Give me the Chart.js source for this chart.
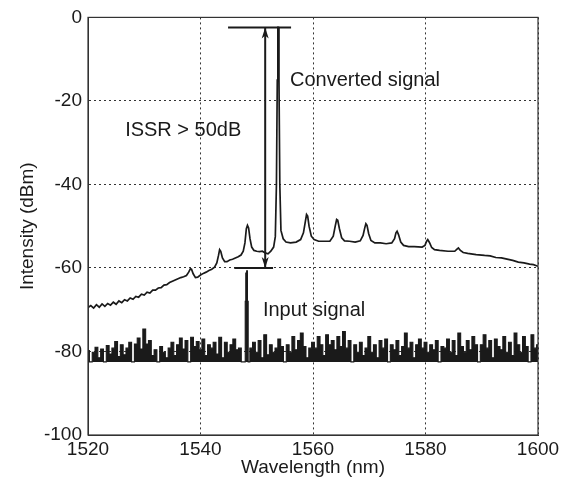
<!DOCTYPE html>
<html><head><meta charset="utf-8">
<script src="https://cdn.jsdelivr.net/npm/chart.js@4/dist/chart.umd.min.js"></script>
<style>html,body{margin:0;padding:0;background:#fff}canvas{display:block}</style>
</head><body>
<canvas id="c" width="570" height="485"></canvas>
<script>
// Axis ticks
const xTicks = [1520, 1540, 1560, 1580, 1600];
const yTicks = [-100, -80, -60, -40, -20, 0];

// Converted signal (nm, dBm)
const convWl = [
 1520.0,1520.5,1521.0,1521.5,1522.0,1522.5,1523.0,1523.5,1524.0,1524.5,
 1525.0,1525.5,1526.0,1526.5,1527.0,1527.5,1528.0,1528.5,1529.0,1529.5,
 1530.0,1530.5,1531.0,1531.5,1532.0,1532.5,1533.0,1533.5,1534.0,1534.5,
 1535.0,1535.5,1536.0,1536.5,1537.0,1537.5,1537.9,1538.2,1538.4,1538.7,
 1539.1,1539.5,1540.0,1540.5,1541.0,1541.5,1542.0,1542.5,1542.9,1543.2,
 1543.4,1543.6,1543.9,1544.3,1544.7,1545.2,1545.7,1546.2,1546.7,1547.2,
 1547.6,1547.9,1548.15,1548.35,1548.55,1548.8,1549.1,1549.5,1550.0,1550.5,
 1551.0,1551.5,1552.0,1552.5,1553.0,1553.3,1553.5,1553.65,1553.75,1553.85,
 1553.95,1554.1,1554.3,1554.7,1555.2,1556.0,1557.0,1557.8,1558.3,1558.6,
 1558.85,1559.05,1559.3,1559.7,1560.2,1561.0,1562.0,1563.0,1563.6,1563.95,
 1564.2,1564.4,1564.7,1565.1,1565.6,1566.5,1567.5,1568.4,1568.9,1569.2,
 1569.4,1569.6,1569.9,1570.3,1571.0,1572.0,1573.0,1574.0,1574.5,1574.75,
 1574.95,1575.2,1575.6,1576.1,1577.0,1578.0,1579.4,1579.9,1580.2,1580.4,
 1580.7,1581.1,1581.6,1582.5,1584.0,1585.2,1585.6,1585.85,1586.2,1586.7,
 1587.5,1589.0,1590.5,1591.5,1592.5,1593.5,1594.5,1595.5,1596.5,1597.5,
 1598.5,1599.2,1600.0
];
const convDb = [
 -69.5,-69.0,-69.6,-68.8,-69.4,-68.6,-69.2,-68.5,-68.9,-68.2,
 -68.7,-67.9,-68.3,-67.6,-67.9,-67.2,-67.5,-66.8,-67.0,-66.3,
 -66.5,-65.8,-66.0,-65.3,-65.3,-64.8,-64.7,-64.1,-64.0,-63.5,
 -63.2,-62.9,-62.6,-62.3,-62.1,-61.8,-61.0,-60.2,-60.3,-61.4,
 -62.3,-62.2,-61.7,-61.3,-61.0,-60.6,-60.3,-59.8,-58.8,-57.0,
 -55.6,-56.0,-57.6,-58.5,-58.5,-58.1,-57.9,-57.6,-57.3,-56.9,
 -56.0,-54.0,-50.6,-49.8,-50.4,-53.0,-55.0,-55.8,-56.0,-56.1,
 -56.0,-56.4,-56.6,-56.0,-55.0,-52.5,-40.0,-15.0,-2.4,-2.4,
 -15.0,-40.0,-51.0,-53.0,-53.8,-54.0,-53.8,-53.2,-51.6,-49.2,
 -47.2,-47.6,-50.0,-52.4,-53.2,-53.6,-53.6,-53.6,-52.4,-50.0,
 -48.4,-48.6,-50.6,-52.8,-53.5,-53.6,-53.8,-53.5,-52.2,-50.4,
 -49.4,-49.8,-51.8,-53.4,-54.0,-54.0,-54.2,-54.0,-53.0,-51.6,
 -51.2,-52.0,-53.8,-54.6,-54.9,-54.9,-55.0,-54.6,-53.6,-53.2,
 -53.9,-55.1,-55.6,-55.8,-56.0,-56.0,-55.5,-55.2,-55.8,-56.3,
 -56.5,-56.8,-57.0,-57.1,-57.5,-57.6,-57.9,-58.2,-58.6,-58.8,
 -59.1,-59.2,-59.6
];

// Input signal (nm, dBm)
const inputWl = [
 1520,1520.5,1521,1521.5,1522,1522.5,1523,1523.5,1524,1524.5,
 1525,1525.5,1526,1526.5,1527,1527.5,1528,1528.5,1529,1529.5,
 1530,1530.5,1531,1531.5,1532,1532.5,1533,1533.5,1534,1534.5,
 1535,1535.5,1536,1536.5,1537,1537.5,1538,1538.5,1539,1539.5,
 1540,1540.5,1541,1541.5,1542,1542.5,1543,1543.5,1544,1544.5,
 1545,1545.5,1546,1546.5,1547,1547.5,
 1547.9,1548.0,1548.1,1548.3,1548.4,1548.55,
 1549,1549.5,
 1550,1550.5,1551,1551.5,1552,1552.5,1553,1553.5,1554,1554.5,
 1555,1555.5,1556,1556.5,1557,1557.5,1558,1558.5,1559,1559.5,
 1560,1560.5,1561,1561.5,1562,1562.5,1563,1563.5,1564,1564.5,
 1565,1565.5,1566,1566.5,1567,1567.5,1568,1568.5,1569,1569.5,
 1570,1570.5,1571,1571.5,1572,1572.5,1573,1573.5,1574,1574.5,
 1575,1575.5,1576,1576.5,1577,1577.5,1578,1578.5,1579,1579.5,
 1580,1580.5,1581,1581.5,1582,1582.5,1583,1583.5,1584,1584.5,
 1585,1585.5,1586,1586.5,1587,1587.5,1588,1588.5,1589,1589.5,
 1590,1590.5,1591,1591.5,1592,1592.5,1593,1593.5,1594,1594.5,
 1595,1595.5,1596,1596.5,1597,1597.5,1598,1598.5,1599,1599.5,
 1600
];
const inputDb = [
 -79.8,-82.5,-80.2,-79.0,-81.5,-79.4,-82.5,-78.6,-80.6,-79.2,
 -77.6,-81.2,-78.4,-80.8,-79.2,-77.8,-82.5,-78.2,-76.8,-79.4,
 -74.6,-78.2,-77.4,-81.0,-79.6,-82.5,-78.8,-80.2,-81.5,-79.2,
 -77.8,-81.0,-78.4,-76.8,-79.4,-77.4,-82.5,-76.6,-78.8,-77.6,
 -79.6,-77.0,-81.0,-78.4,-79.2,-77.8,-80.6,-76.6,-81.5,-77.8,
 -80.2,-78.4,-77.0,-79.6,-79.2,-82.5,
 -82.5,-68,-61.2,-60.7,-68,-82.5,
 -79.2,-77.8,
 -80.2,-77.4,-81.5,-76.0,-80.8,-78.4,-80.2,-79.2,-77.0,-78.8,
 -82.5,-78.4,-80.2,-76.4,-79.6,-77.4,-75.6,-78.8,-81.5,-79.2,
 -77.8,-79.2,-76.4,-78.4,-81.0,-76.0,-78.4,-77.4,-79.6,-76.4,
 -78.8,-75.2,-79.2,-77.4,-82.5,-78.4,-80.2,-77.8,-81.0,-79.2,
 -76.4,-80.2,-78.4,-81.5,-77.4,-79.2,-77.0,-82.5,-78.4,-79.6,
 -77.4,-81.0,-78.8,-75.6,-79.2,-77.8,-81.5,-78.4,-77.0,-79.2,
 -77.8,-80.2,-78.4,-79.6,-77.4,-82.5,-78.8,-79.2,-77.0,-80.2,
 -77.4,-81.0,-75.6,-78.8,-80.2,-77.4,-79.6,-76.4,-78.4,-82.5,
 -78.4,-76.0,-79.2,-77.4,-81.5,-77.0,-78.8,-79.6,-76.4,-80.2,
 -77.8,-81.0,-75.6,-78.4,-80.2,-76.4,-78.8,-82.5,-76.0,-79.2,
 -78.4
];
const inputFloorDb = -82.5;

// ISSR annotation markers
const issrTopWl = [1544.9, 1556.1];
const issrTopDb = [-2.4, -2.4];
const issrBotWl = [1546.0, 1552.9];
const issrBotDb = [-60, -60];
const arrowWl = [1551.5, 1551.5];
const arrowDb = [-2.4, -60];

// Text labels
const labelTexts = ['Converted signal', 'ISSR > 50dB', 'Input signal'];
const labelWl = [1555.9, 1526.6, 1551.1];
const labelDb = [-15, -27, -70.2];

const FONT = '"Liberation Sans", Arial, Helvetica, sans-serif';
const INK = '#1a1a1a';

const pts = (xs, ys) => xs.map((x, i) => ({x, y: ys[i]}));

const overlay = {
  id: 'overlay',
  afterDatasetsDraw(chart) {
    const {ctx, chartArea: a, scales: {x, y}} = chart;
    ctx.save();
    ctx.strokeStyle = '#333';
    ctx.lineWidth = 1.2;
    ctx.strokeRect(a.left, a.top, a.right - a.left, a.bottom - a.top);
    const ax = x.getPixelForValue(arrowWl[0]);
    const yt = y.getPixelForValue(arrowDb[0]);
    const yb = y.getPixelForValue(arrowDb[1]);
    ctx.fillStyle = INK;
    ctx.beginPath();
    ctx.moveTo(ax, yt); ctx.lineTo(ax - 3.5, yt + 11); ctx.lineTo(ax, yt + 8); ctx.lineTo(ax + 3.5, yt + 11); ctx.closePath();
    ctx.fill();
    ctx.beginPath();
    ctx.moveTo(ax, yb); ctx.lineTo(ax - 3.5, yb - 11); ctx.lineTo(ax, yb - 8); ctx.lineTo(ax + 3.5, yb - 11); ctx.closePath();
    ctx.fill();
    ctx.font = '20px ' + FONT;
    ctx.textAlign = 'left';
    ctx.textBaseline = 'middle';
    labelTexts.forEach((t, i) => {
      ctx.fillText(t, x.getPixelForValue(labelWl[i]), y.getPixelForValue(labelDb[i]));
    });
    ctx.restore();
  }
};

new Chart(document.getElementById('c'), {
  type: 'scatter',
  data: {
    datasets: [
      {label: 'Input signal', data: pts(inputWl, inputDb), showLine: true, borderColor: INK, borderWidth: 1.1,
       backgroundColor: INK, fill: {value: inputFloorDb}, stepped: 'middle', pointRadius: 0},
      {label: 'Converted signal', data: pts(convWl, convDb), showLine: true, borderColor: INK, borderWidth: 1.7,
       pointRadius: 0, fill: false, tension: 0},
      {label: 'top', data: pts(issrTopWl, issrTopDb), showLine: true, borderColor: INK, borderWidth: 2, pointRadius: 0},
      {label: 'bottom', data: pts(issrBotWl, issrBotDb), showLine: true, borderColor: INK, borderWidth: 2, pointRadius: 0},
      {label: 'arrow', data: pts(arrowWl, arrowDb), showLine: true, borderColor: INK, borderWidth: 2, pointRadius: 0}
    ]
  },
  options: {
    responsive: false,
    animation: false,
    events: [],
    layout: {padding: {left: 0, right: 32, top: 15, bottom: 0}},
    plugins: {legend: {display: false}, tooltip: {enabled: false}},
    scales: {
      x: {
        type: 'linear', min: xTicks[0], max: xTicks[xTicks.length - 1],
        afterBuildTicks: s => { s.ticks = xTicks.map(v => ({value: v})); },
        afterFit: s => { s.height = 50; },
        grid: {color: '#333', lineWidth: 1, drawTicks: false},
        border: {display: true, color: '#333', dash: [2, 3]},
        ticks: {color: INK, font: {family: FONT, size: 19}, padding: 3, maxRotation: 0, autoSkip: false,
                callback: v => String(v)},
        title: {display: true, text: 'Wavelength (nm)', color: INK, font: {family: FONT, size: 19}, padding: {top: 0, bottom: 6}}
      },
      y: {
        type: 'linear', min: yTicks[0], max: yTicks[yTicks.length - 1],
        afterBuildTicks: s => { s.ticks = yTicks.map(v => ({value: v})); },
        afterFit: s => { s.width = 88; },
        grid: {color: '#333', lineWidth: 1, drawTicks: false},
        border: {display: true, color: '#333', dash: [2, 3]},
        ticks: {color: INK, font: {family: FONT, size: 19}, padding: 6, autoSkip: false,
                callback: v => String(v)},
        title: {display: true, text: 'Intensity (dBm)', color: INK, font: {family: FONT, size: 19}, padding: {top: 16, bottom: 0}}
      }
    }
  },
  plugins: [overlay]
});
</script>
</body></html>
